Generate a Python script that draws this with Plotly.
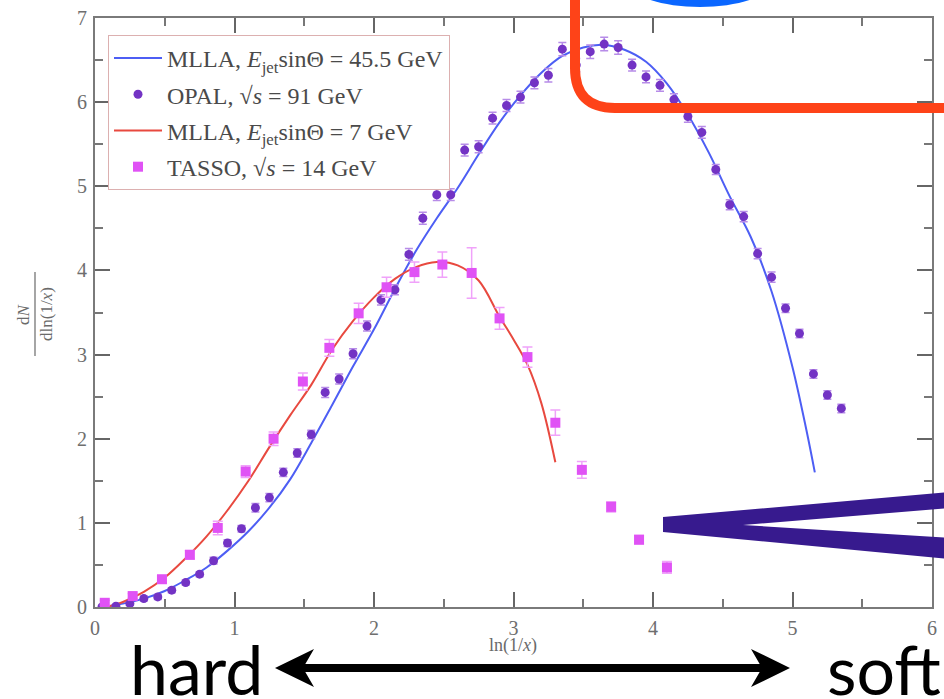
import plotly.graph_objects as go

# ---------------- data ----------------
opal_x = [0.05, 0.15, 0.25, 0.35, 0.45, 0.55, 0.65, 0.75, 0.85, 0.95,
          1.05, 1.15, 1.25, 1.35, 1.45, 1.55, 1.65, 1.75, 1.85, 1.95,
          2.05, 2.15, 2.25, 2.35, 2.45, 2.55, 2.65, 2.75, 2.85, 2.95,
          3.05, 3.15, 3.25, 3.35, 3.45, 3.55, 3.65, 3.75, 3.85, 3.95,
          4.05, 4.15, 4.25, 4.35, 4.45, 4.55, 4.65, 4.75, 4.85, 4.95,
          5.05, 5.15, 5.25, 5.35]
opal_y = [0.00, 0.01, 0.04, 0.10, 0.12, 0.20, 0.29, 0.39, 0.55, 0.76,
          0.93, 1.18, 1.30, 1.60, 1.83, 2.05, 2.55, 2.71, 3.01, 3.34,
          3.65, 3.77, 4.19, 4.62, 4.90, 4.90, 5.43, 5.47, 5.81, 5.96,
          6.06, 6.23, 6.32, 6.63, 6.44, 6.60, 6.69, 6.65, 6.44, 6.30,
          6.20, 6.03, 5.83, 5.64, 5.20, 4.78, 4.64, 4.20, 3.92, 3.55,
          3.25, 2.77, 2.52, 2.36]
opal_err = [0.02, 0.02, 0.02, 0.03, 0.03, 0.03, 0.03, 0.03, 0.04, 0.04,
            0.04, 0.05, 0.05, 0.05, 0.05, 0.05, 0.06, 0.06, 0.06, 0.06,
            0.06, 0.06, 0.07, 0.07, 0.07, 0.07, 0.07, 0.07, 0.07, 0.07,
            0.07, 0.07, 0.08, 0.08, 0.08, 0.08, 0.08, 0.08, 0.07, 0.07,
            0.07, 0.07, 0.07, 0.07, 0.06, 0.06, 0.06, 0.06, 0.06, 0.05,
            0.05, 0.05, 0.05, 0.05]

tasso_x = [0.07, 0.27, 0.48, 0.68, 0.88, 1.08, 1.28, 1.49, 1.68, 1.89,
           2.09, 2.29, 2.49, 2.70, 2.90, 3.10, 3.30, 3.49, 3.70, 3.90, 4.10]
tasso_y = [0.05, 0.13, 0.33, 0.62, 0.94, 1.61, 2.00, 2.68, 3.08, 3.49,
           3.80, 3.98, 4.07, 3.97, 3.43, 2.97, 2.19, 1.63, 1.19, 0.80, 0.47]
tasso_err = [0.03, 0.03, 0.04, 0.05, 0.08, 0.07, 0.08, 0.10, 0.10, 0.12,
             0.12, 0.12, 0.15, 0.30, 0.13, 0.12, 0.15, 0.10, 0.06, 0.05, 0.07]

mlla45_x = [0.05, 0.20, 0.35, 0.50, 0.65, 0.80, 0.95, 1.10, 1.25, 1.40,
            1.55, 1.70, 1.85, 2.00, 2.15, 2.30, 2.45, 2.60, 2.75, 2.90,
            3.05, 3.20, 3.35, 3.50, 3.65, 3.80, 3.95, 4.10, 4.25, 4.40,
            4.55, 4.70, 4.85, 5.00, 5.10, 5.16]
mlla45_y = [0.00, 0.04, 0.10, 0.19, 0.32, 0.47, 0.67, 0.90, 1.18, 1.52,
            1.95, 2.40, 2.86, 3.30, 3.78, 4.23, 4.62, 4.98, 5.38, 5.76,
            6.08, 6.35, 6.55, 6.65, 6.68, 6.62, 6.48, 6.22, 5.85, 5.40,
            4.88, 4.40, 3.75, 2.85, 2.10, 1.60]

mlla7_x = [0.08, 0.20, 0.35, 0.50, 0.65, 0.80, 0.95, 1.10, 1.25, 1.40,
           1.55, 1.70, 1.85, 2.00, 2.15, 2.30, 2.45, 2.60, 2.75, 2.90,
           3.00, 3.10, 3.20, 3.30]
mlla7_y = [0.00, 0.06, 0.18, 0.35, 0.58, 0.84, 1.15, 1.50, 1.90, 2.28,
           2.64, 3.06, 3.40, 3.68, 3.90, 4.04, 4.10, 4.06, 3.88, 3.45,
           3.18, 2.88, 2.42, 1.72]

x_ticks = [0, 1, 2, 3, 4, 5, 6]
y_ticks = [0, 1, 2, 3, 4, 5, 6, 7]

names = ["MLLA, <i>E</i><sub>jet</sub>sinΘ = 45.5 GeV",
         "OPAL, √<i>s</i> = 91 GeV",
         "MLLA, <i>E</i><sub>jet</sub>sinΘ = 7 GeV",
         "TASSO, √<i>s</i> = 14 GeV"]

# ---------------- layout geometry ----------------
W, H = 944, 699
PL, PR, PT, PB = 95, 932, 18, 607          # plot area in pixels


def fx(px):
    return px / W


def fy(py):
    return 1 - py / H


BLUE = "#4d5ef4"
RED = "#e8493f"
PURPLE = "#7333c4"
PURPLE_ERR = "#b78ce8"
MAGENTA = "#e052f5"
MAGENTA_ERR = "#f0a2fa"
AX = "#7a7a7a"
SERIF = "Liberation Serif, Times New Roman, serif"

fig = go.Figure()

fig.add_trace(go.Scatter(
    x=mlla45_x, y=mlla45_y, mode="lines", name=names[0], legendrank=1,
    legendgroup="a", line=dict(color=BLUE, width=2, shape="spline")))
fig.add_trace(go.Scatter(
    x=mlla7_x, y=mlla7_y, mode="lines", name=names[2], legendrank=3,
    legendgroup="c", line=dict(color=RED, width=2, shape="spline")))
fig.add_trace(go.Scatter(
    x=opal_x, y=opal_y, mode="markers", name=names[1], legendrank=2,
    legendgroup="b",
    marker=dict(symbol="circle", size=9, color=PURPLE),
    error_y=dict(type="data", array=opal_err, color=PURPLE_ERR,
                 thickness=1.5, width=4)))
fig.add_trace(go.Scatter(
    x=tasso_x, y=tasso_y, mode="markers", name=names[3], legendrank=4,
    legendgroup="d",
    marker=dict(symbol="square", size=10, color=MAGENTA),
    error_y=dict(type="data", array=tasso_err, color=MAGENTA_ERR,
                 thickness=1.5, width=5)))

axis_common = dict(
    showline=True, linecolor=AX, linewidth=2, mirror="allticks",
    ticks="inside", ticklen=15, tickwidth=2, tickcolor="#666666",
    showgrid=False, zeroline=False, automargin=False,
    tickfont=dict(family=SERIF, size=20, color="#6e6e6e"),
    minor=dict(ticks="inside", ticklen=8, tickwidth=1.5,
               tickcolor="#777777", dtick=0.5, showgrid=False),
)

fig.update_layout(
    width=W, height=H, autosize=False,
    margin=dict(l=0, r=0, t=0, b=0, pad=0, autoexpand=False),
    paper_bgcolor="white", plot_bgcolor="white",
    xaxis=dict(domain=[fx(PL), fx(PR)], range=[0, 6], tickvals=x_ticks,
               ticklabelstandoff=2, **axis_common),
    yaxis=dict(domain=[fy(PB), fy(PT)], range=[0, 7], tickvals=y_ticks,
               ticklabelstandoff=2, **axis_common),
    legend=dict(x=fx(108), y=fy(35), xanchor="left", yanchor="top",
                bgcolor="white", bordercolor="#dcb0b0", borderwidth=1,
                font=dict(family=SERIF, size=24, color="#4a4a4a"),
                traceorder="grouped", tracegroupgap=2, itemwidth=48),
    showlegend=True,
)

annotations = [
    dict(text="ln(1/<i>x</i>)", x=fx(513), y=fy(645), font=dict(
        family=SERIF, size=18, color="#6a6a6a")),
    dict(text="d<i>N</i>", x=fx(23), y=fy(314), textangle=-90,
         font=dict(family=SERIF, size=17, color="#6a6a6a")),
    dict(text="dln(1/<i>x</i>)", x=fx(46), y=fy(314), textangle=-90,
         font=dict(family=SERIF, size=17, color="#6a6a6a")),
    dict(text="hard", x=fx(196), y=fy(668),
         font=dict(family="Lato", size=68, color="black")),
    dict(text="soft", x=fx(884), y=fy(668),
         font=dict(family="Lato", size=68, color="black")),
]
for a in annotations:
    a.update(xref="paper", yref="paper", xanchor="center", yanchor="middle",
             showarrow=False)
fig.update_layout(annotations=annotations)


def poly(points):
    return "M" + " L".join(f"{fx(x):.5f},{fy(y):.5f}" for x, y in points) + " Z"


shapes = [
    # y-title fraction bar
    dict(type="line", x0=fx(35), x1=fx(35), y0=fy(272), y1=fy(356),
         line=dict(color="#6a6a6a", width=1.2)),
    # double-headed arrow shaft
    dict(type="line", x0=fx(300), x1=fx(765), y0=fy(668), y1=fy(668),
         line=dict(color="black", width=8)),
    dict(type="path", path=poly([(275, 668), (314, 649), (303, 668), (314, 687)]),
         fillcolor="black", line=dict(width=0)),
    dict(type="path", path=poly([(790, 668), (751, 649), (762, 668), (751, 687)]),
         fillcolor="black", line=dict(width=0)),
    # blue ellipse at top
    dict(type="circle", x0=fx(630), x1=fx(770), y0=fy(-40), y1=fy(7),
         fillcolor="#0a66ff", line=dict(width=0), layer="above"),
    # orange rounded frame
    dict(type="path",
         path=(f"M{fx(575):.5f},{fy(-10):.5f} L{fx(575):.5f},{fy(68):.5f} "
               f"Q{fx(575):.5f},{fy(108):.5f} {fx(615):.5f},{fy(108):.5f} "
               f"L{fx(960):.5f},{fy(108):.5f}"),
         line=dict(color="#fe4318", width=10), layer="above"),
    # indigo wedge
    dict(type="path",
         path=poly([(663, 517), (950, 492), (950, 508), (743, 525),
                    (950, 538), (950, 559), (663, 532)]),
         fillcolor="#371a8e", line=dict(width=0), layer="above"),
]
for s in shapes:
    s.update(xref="paper", yref="paper")
fig.update_layout(shapes=shapes)

fig.write_html("out.html")
